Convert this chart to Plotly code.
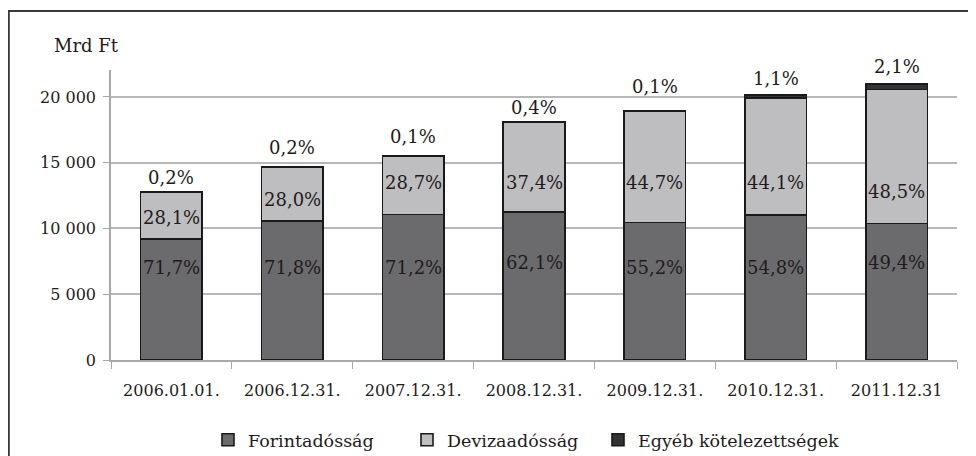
import plotly.graph_objects as go

# ---- data (Mrd Ft) ----
categories = ["2006.01.01.", "2006.12.31.", "2007.12.31.", "2008.12.31.",
              "2009.12.31.", "2010.12.31.", "2011.12.31"]
forint = [9180, 10555, 11070, 11270, 10460, 11040, 10375]
deviza = [3595, 4115, 4460, 6790, 8470, 8885, 10185]
egyeb = [26, 30, 16, 73, 19, 222, 441]

forint_share = ["71,7%", "71,8%", "71,2%", "62,1%", "55,2%", "54,8%", "49,4%"]
deviza_share = ["28,1%", "28,0%", "28,7%", "37,4%", "44,7%", "44,1%", "48,5%"]
egyeb_share = ["0,2%", "0,2%", "0,1%", "0,4%", "0,1%", "1,1%", "2,1%"]

y_ticks = [0, 5000, 10000, 15000, 20000]

# ---- label placement (layout) ----
forint_label_y = [7000, 7000, 7070, 7380, 7070, 7070, 7380]      # axis units
deviza_label_y = [10800, 12170, 13460, 13460, 13460, 13460, 12800]  # axis units
top_label_shift = [14, 19, 19, 14, 24, 17, 17]                    # px above bar top
legend_x = [0.2066, 0.4122, 0.6095]                               # container fraction

FONT = "DejaVu Serif"
TXT = "#1f1b1c"
OUT = "#1a1a1a"

fig = go.Figure()
fig.add_trace(go.Bar(name="Forintadósság", x=categories, y=forint, legend="legend",
                     marker=dict(color="#6b6b6e", line=dict(color=OUT, width=1.6))))
fig.add_trace(go.Bar(name="Devizaadósság", x=categories, y=deviza, legend="legend2",
                     marker=dict(color="#bebec1", line=dict(color=OUT, width=1.6))))
fig.add_trace(go.Bar(name="Egyéb kötelezettségek", x=categories, y=egyeb, legend="legend3",
                     marker=dict(color="#333335", line=dict(color=OUT, width=1.6))))

annotations = []
for i, c in enumerate(categories):
    lab_font = dict(family=FONT, size=18, color=TXT)
    annotations.append(dict(x=c, y=forint_label_y[i], text=forint_share[i],
                            showarrow=False, font=lab_font))
    annotations.append(dict(x=c, y=deviza_label_y[i], text=deviza_share[i],
                            showarrow=False, font=lab_font))
    total = forint[i] + deviza[i] + egyeb[i]
    annotations.append(dict(x=c, y=total, yshift=top_label_shift[i], yanchor="middle",
                            text=egyeb_share[i], showarrow=False, font=lab_font))

annotations.append(dict(xref="paper", yref="paper", x=-0.0284, y=1.086, xanchor="center",
                        yanchor="middle", text="Mrd Ft", showarrow=False,
                        font=dict(family=FONT, size=18, color=TXT)))


def leg(xpos):
    return dict(orientation="h", xref="container", yref="container",
                x=xpos, xanchor="left", y=0.036, yanchor="middle",
                font=dict(family=FONT, size=17.5, color=TXT), itemwidth=30,
                bgcolor="rgba(0,0,0,0)")


# the page body adds an 8 px offset, so the figure is 8 px smaller than the window
fig.update_layout(
    barmode="stack",
    bargap=0.49,
    width=968, height=448,
    margin=dict(l=103, r=19, t=62, b=96, autoexpand=False),
    paper_bgcolor="white", plot_bgcolor="white",
    separators=", ",
    font=dict(family=FONT, size=16, color=TXT),
    showlegend=True,
    legend=leg(legend_x[0]),
    legend2=leg(legend_x[1]),
    legend3=leg(legend_x[2]),
    annotations=annotations,
    shapes=[dict(type="rect", xref="paper", yref="paper", x0=-0.1208, x1=1.06,
                 y0=-0.4, y1=1.2034, line=dict(color="#3a3a3a", width=2),
                 fillcolor="rgba(0,0,0,0)", layer="below")],
)
fig.update_xaxes(showline=True, linecolor="#a8a8a8", linewidth=1.5, automargin=False,
                 ticks="outside", tickson="boundaries", ticklen=7, tickcolor="#a8a8a8",
                 ticklabelstandoff=15,
                 tickfont=dict(family=FONT, size=16, color=TXT), showgrid=False)
fig.update_yaxes(range=[0, 22050], tickvals=y_ticks, tickformat=",d", automargin=False,
                 showline=True, linecolor="#a8a8a8", linewidth=1.5,
                 ticks="outside", ticklen=6, tickcolor="#a8a8a8", ticklabelstandoff=4,
                 showgrid=True, gridcolor="#b8b8b8", gridwidth=1.5,
                 tickfont=dict(family=FONT, size=16, color=TXT), zeroline=False)

fig.write_html("out.html")
